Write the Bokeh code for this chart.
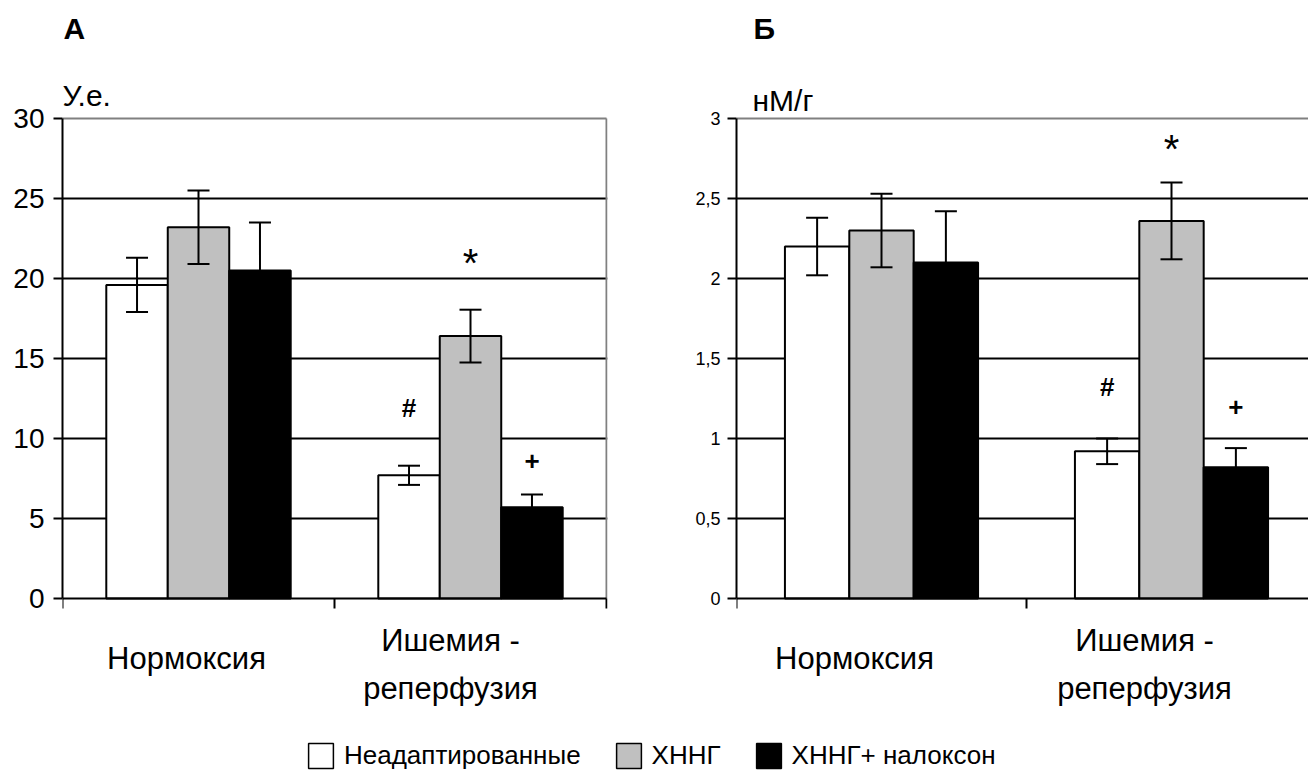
from bokeh.plotting import figure
from bokeh.models import (ColumnDataSource, FixedTicker, Whisker, TeeHead, Title,
                          Legend, LegendItem, Range1d)
from bokeh.layouts import column, row
from bokeh.embed import file_html
from bokeh.resources import INLINE
from bokeh.core.properties import value

FONT = "Liberation Sans"

# ---------------- data ----------------
categories = ["Нормоксия", "Ишемия -\nреперфузия"]
series_names = ["Неадаптированные", "ХННГ", "ХННГ+ налоксон"]
series_colors = ["#ffffff", "#c0c0c0", "#000000"]

# Panel А (У.е.)
a_unadapted = [19.6, 7.7]
a_unadapted_err = [1.7, 0.6]
a_hnng = [23.2, 16.4]
a_hnng_err = [2.3, 1.65]
a_hnng_nalox = [20.5, 5.7]
a_hnng_nalox_err = [3.0, 0.8]
a_ticks = [0, 5, 10, 15, 20, 25, 30]
a_tick_labels = ["0", "5", "10", "15", "20", "25", "30"]
a_sig_marks = ["#", "*", "+"]          # over the Ишемия-реперфузия bars
a_sig_y = [11.9, 21.0, 8.6]

# Panel Б (нМ/г)
b_unadapted = [2.2, 0.92]
b_unadapted_err = [0.18, 0.08]
b_hnng = [2.3, 2.36]
b_hnng_err = [0.23, 0.24]
b_hnng_nalox = [2.1, 0.82]
b_hnng_nalox_err = [0.32, 0.12]
b_ticks = [0, 0.5, 1, 1.5, 2, 2.5, 3]
b_tick_labels = ["0", "0,5", "1", "1,5", "2", "2,5", "3"]
b_sig_marks = ["#", "*", "+"]
b_sig_y = [1.32, 2.81, 1.2]

# ---------------- layout (pixels) ----------------
FIG_H = 740
FRAME_TOP = 46      # top of the drawing frame
AXIS_TOP = 118      # where the top tick sits
AXIS_ZERO = 598     # where 0 sits
FRAME_BOTTOM = 710  # bottom of the drawing frame


def make_panel(means, errs, ticks, tick_labels, sig_marks, sig_y, letter, unit,
               width, border_left, border_right, cat_px, bar_w, tick_font_size,
               tick_standoff, ytick_baseline, cat_dx, letter_dx, unit_dx,
               unit_up, right_border):
    ymax = ticks[-1]
    ncat = len(categories)
    ppu = (AXIS_ZERO - AXIS_TOP) / ymax
    frame_w = width - border_left - border_right
    x_end = frame_w / cat_px
    y_end = ymax + (AXIS_TOP - FRAME_TOP) / ppu
    y_start = -(FRAME_BOTTOM - AXIS_ZERO) / ppu

    p = figure(width=width, height=FIG_H, x_range=Range1d(0, x_end),
               y_range=Range1d(y_start, y_end), output_backend="svg",
               toolbar_location=None, min_border_left=border_left,
               min_border_right=border_right, min_border_top=FRAME_TOP,
               min_border_bottom=FIG_H - FRAME_BOTTOM)
    p.outline_line_color = None
    p.background_fill_color = "white"
    p.border_fill_color = "white"

    # grid
    p.xgrid.visible = False
    p.ygrid.ticker = FixedTicker(ticks=ticks[1:-1])
    p.ygrid.grid_line_color = "black"
    p.ygrid.grid_line_width = 2

    # y axis
    p.yaxis.ticker = FixedTicker(ticks=ticks)
    p.yaxis.bounds = (0, ymax)
    p.yaxis.major_label_overrides = {t: l for t, l in zip(ticks, tick_labels)}
    p.yaxis.minor_tick_line_color = None
    p.yaxis.major_tick_in = 0
    p.yaxis.major_tick_out = 9
    p.yaxis.major_tick_line_width = 2
    p.yaxis.axis_line_width = 2
    p.yaxis.major_label_standoff = tick_standoff
    p.yaxis.major_label_text_font = FONT
    p.yaxis.major_label_text_font_size = tick_font_size
    p.yaxis.major_label_text_color = "black"
    p.yaxis.major_label_text_baseline = ytick_baseline

    # x axis at y = 0, ticks at category boundaries
    bounds = list(range(ncat + 1))
    p.xaxis.fixed_location = 0
    p.xaxis.bounds = (0, ncat)
    p.xaxis.ticker = FixedTicker(ticks=bounds)
    p.xaxis.major_label_overrides = {b: "" for b in bounds}
    p.xaxis.major_label_standoff = 0
    p.xaxis.minor_tick_line_color = None
    p.xaxis.major_tick_in = 0
    p.xaxis.major_tick_out = 10
    p.xaxis.major_tick_line_width = 2
    p.xaxis.axis_line_width = 2

    # grey frame (top, and right where visible)
    bx0, by0, bx1, by1 = [0], [ymax], [min(ncat, x_end)], [ymax]
    if right_border:
        bx0.append(ncat); by0.append(0); bx1.append(ncat); by1.append(ymax)
    p.segment(x0=bx0, y0=by0, x1=bx1, y1=by1, line_color="#808080", line_width=2)

    # bars + error bars
    for i, (vals, err, color) in enumerate(zip(means, errs, series_colors)):
        xs = [c + 0.5 + (i - 1) * bar_w for c in range(ncat)]
        src = ColumnDataSource(dict(
            x=xs, top=vals,
            upper=[v + e for v, e in zip(vals, err)],
            lower=[v - e for v, e in zip(vals, err)]))
        p.vbar(x="x", top="top", width=bar_w, fill_color=color,
               line_color="black", line_width=2, source=src)
        w = Whisker(base="x", upper="upper", lower="lower", source=src,
                    line_color="black", line_width=2, level="annotation",
                    upper_head=TeeHead(size=22, line_width=2, line_color="black"),
                    lower_head=TeeHead(size=22, line_width=2, line_color="black"))
        p.add_layout(w)

    # significance marks (second category)
    sig_src = ColumnDataSource(dict(
        x=[ncat - 0.5 + (i - 1) * bar_w for i in range(len(sig_marks))],
        y=sig_y, t=sig_marks,
        size=["40px" if m == "*" else "26px" for m in sig_marks],
        style=["normal" if m == "*" else "bold" for m in sig_marks]))
    p.text(x="x", y="y", text="t", source=sig_src, text_align="center",
           text_baseline="middle", text_font=value(FONT),
           text_font_size="size", text_font_style="style", text_color="black")

    # category labels below the axis
    lx, ly, lt, ldx = [], [], [], []
    for c, cat in enumerate(categories):
        lines = cat.split("\n")
        n = len(lines)
        for j, line in enumerate(lines):
            px = 60 + 6 * (n - 1) + (j - (n - 1) / 2) * 48
            lx.append(c + 0.5)
            ly.append(-px / ppu)
            lt.append(line)
            ldx.append(cat_dx[c])
    p.text(x="x", y="y", text="t", x_offset="dx",
           source=ColumnDataSource(dict(x=lx, y=ly, t=lt, dx=ldx)),
           text_align="center", text_baseline="middle", text_font=value(FONT),
           text_font_size="31px", text_color="black")

    # unit label
    p.text(x=[0], y=[ymax + unit_up / ppu], text=[unit], x_offset=unit_dx,
           text_align="left", text_baseline="alphabetic", text_font=value(FONT),
           text_font_size="30px", text_color="black")

    # panel letter
    p.add_layout(Title(text=letter, align="left", offset=letter_dx, standoff=4,
                       text_font=FONT, text_font_size="30px",
                       text_font_style="bold", text_color="black"), "above")
    return p


pA = make_panel([a_unadapted, a_hnng, a_hnng_nalox],
                [a_unadapted_err, a_hnng_err, a_hnng_nalox_err],
                a_ticks, a_tick_labels, a_sig_marks, a_sig_y, "А", "У.е.",
                width=660, border_left=62, border_right=53, cat_px=272,
                bar_w=0.226, tick_font_size="28px", tick_standoff=9,
                ytick_baseline="middle", cat_dx=[-12, -20], letter_dx=1,
                unit_dx=0, unit_up=23, right_border=True)

pB = make_panel([b_unadapted, b_hnng, b_hnng_nalox],
                [b_unadapted_err, b_hnng_err, b_hnng_nalox_err],
                b_ticks, b_tick_labels, b_sig_marks, b_sig_y, "Б", "нМ/г",
                width=648, border_left=76, border_right=0, cat_px=290,
                bar_w=0.222, tick_font_size="18px", tick_standoff=7,
                ytick_baseline="alphabetic", cat_dx=[-27, -27], letter_dx=17,
                unit_dx=16, unit_up=18, right_border=False)

# legend strip
lp = figure(width=1308, height=40, x_range=Range1d(0, 1), y_range=Range1d(0, 1),
            output_backend="svg", toolbar_location=None, min_border=0,
            x_axis_location=None, y_axis_location=None)
lp.grid.visible = False
lp.outline_line_color = None
items = []
for name, color in zip(series_names, series_colors):
    r = lp.vbar(x=[0.5], top=[0.5], width=0.1, fill_color=color,
                line_color="black", line_width=1.5)
    r.visible = False
    items.append(LegendItem(label=name, renderers=[r]))
legend = Legend(items=items, orientation="horizontal", location=(305, 9),
                glyph_width=31, glyph_height=31, label_standoff=8, spacing=32,
                padding=0, margin=0, border_line_color=None,
                background_fill_alpha=0, label_text_font=FONT,
                label_text_font_size="26px", label_height=31,
                label_text_color="black")
lp.add_layout(legend)

layout = column(row(pA, pB), lp)
open("out.html", "w").write(file_html(layout, INLINE))
